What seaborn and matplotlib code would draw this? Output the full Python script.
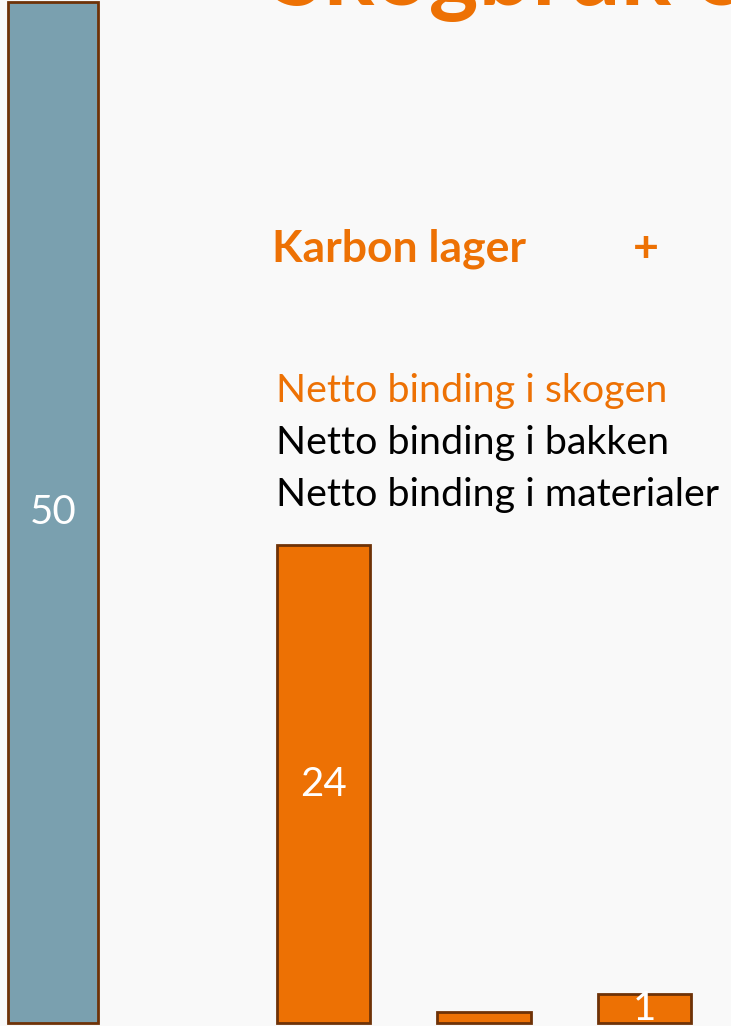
import pandas as pd
import matplotlib.pyplot as plt
import seaborn as sns

# values
total_label = ['Totalt']
total_value = [50]
total_text = ['50']

parts = ['Skog', 'Bakke', 'Materialer']
part_values = [23.4, 0.55, 1.4]
part_text = ['24', '', '1']

legend_lines = ['Netto binding i skogen', 'Netto binding i bakken', 'Netto binding i materialer']

ORANGE = '#ED7104'
BLUE = '#7AA0AF'
EDGE = '#6E3207'
BG = '#F9F9F9'

sns.set_theme(style='white')
plt.rcParams['font.family'] = ['Lato', 'DejaVu Sans']

W, H = 731, 1026
fig = plt.figure(figsize=(W / 100, H / 100), dpi=100)
fig.patch.set_facecolor(BG)

bottom = 3 / H
height = 1021 / H

# left: the big total bar
ax1 = fig.add_axes([0, bottom, 106 / W, height])
df1 = pd.DataFrame({'kat': total_label, 'verdi': total_value})
sns.barplot(data=df1, x='kat', y='verdi', color=BLUE, width=0.85,
            edgecolor=EDGE, linewidth=2, saturation=1, ax=ax1)
ax1.bar_label(ax1.containers[0], labels=total_text, label_type='center',
               color='white', fontsize=29)

# right: the three parts
ax2 = fig.add_axes([243.25 / W, bottom, 481.5 / W, height])
df2 = pd.DataFrame({'kat': parts, 'verdi': part_values})
sns.barplot(data=df2, x='kat', y='verdi', color=ORANGE, width=0.58,
            edgecolor=EDGE, linewidth=2, saturation=1, ax=ax2)
ax2.bar_label(ax2.containers[0], labels=part_text, label_type='center',
              color='white', fontsize=29)

for ax in (ax1, ax2):
    ax.set_ylim(0, 50)
    ax.set_axis_off()
    for p in ax.patches:
        p.set_clip_on(False)
    for t in ax.texts:
        t.set_clip_on(False)

# slide texts
def px(x, y):
    return x / W, 1 - y / H

fig.text(*px(272, 5), 'Skogbruk og', color=ORANGE, fontsize=68,
         fontweight='bold', va='baseline', ha='left')
fig.text(*px(272, 262), 'Karbon lager', color=ORANGE, fontsize=32,
         fontweight='bold', va='baseline', ha='left')
fig.text(*px(646, 262), '+', color=ORANGE, fontsize=32,
         fontweight='bold', va='baseline', ha='center')

colors = [ORANGE, 'black', 'black']
for i, (line, c) in enumerate(zip(legend_lines, colors)):
    fig.text(*px(276, 402 + i * 52), line, color=c, fontsize=28.4,
             va='baseline', ha='left')

plt.savefig('out.png', dpi=100, facecolor=BG)
plt.close()
